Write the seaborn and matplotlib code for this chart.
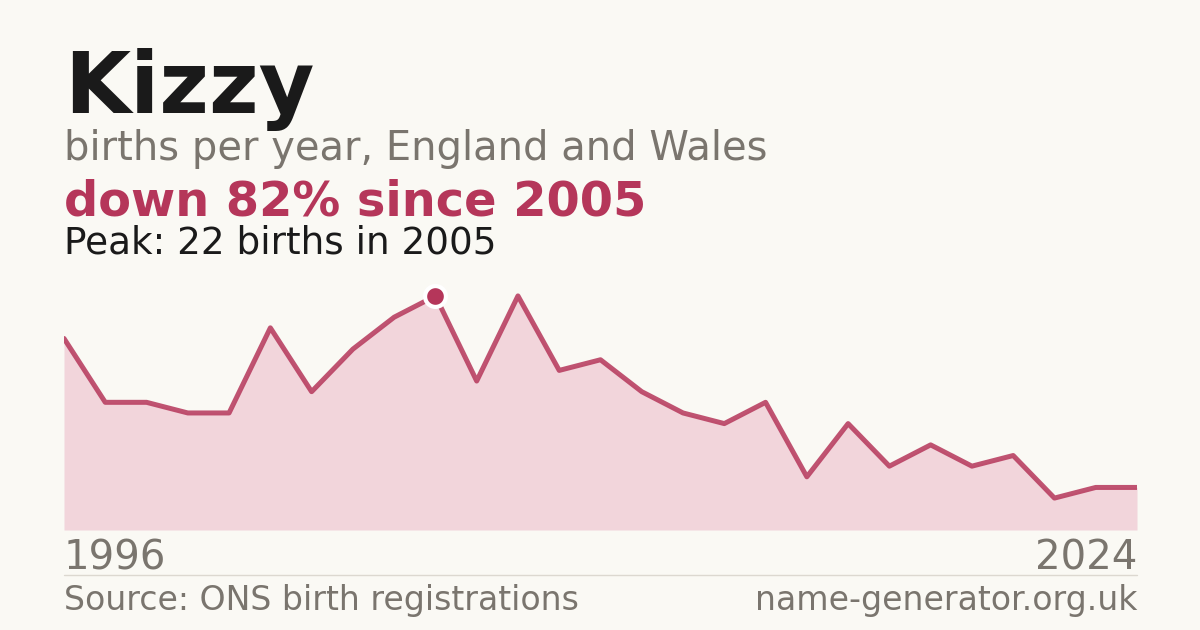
import matplotlib
matplotlib.use('Agg')
import matplotlib.pyplot as plt
import seaborn as sns
import numpy as np
import pandas as pd

# births per year (evenly spaced points as in the chart, 1996 .. 2024)
births = [18, 12, 12, 11, 11, 19, 13, 17, 20, 22, 14, 22, 15, 16,
          13, 11, 10, 12, 5, 10, 6, 8, 6, 7, 3, 4, 4]
first_year = '1996'
last_year = '2024'
peak_idx = 9

title = 'Kizzy'
subtitle = 'births per year, England and Wales'
change_txt = 'down 82% since 2005'
peak_txt = 'Peak: 22 births in 2005'
source_txt = 'Source: ONS birth registrations'
site_txt = 'name-generator.org.uk'

BG = '#faf9f4'
RED = '#b5365a'
FILL = '#f2d5db'
GREY = '#7a756e'
DARK = '#1a1a1a'

W, H = 1200, 630
sns.set_style('white')
plt.rcParams['font.family'] = ['DejaVu Sans']

fig = plt.figure(figsize=(W / 100, H / 100), dpi=100, facecolor=BG)

def px(x, y):
    return x / W, 1 - y / H

ax = fig.add_axes([64 / W, 100 / H, 1073 / W, 250 / H])
ax.set_facecolor(BG)

df = pd.DataFrame({'i': np.arange(len(births)), 'births': births})
ax.fill_between(df['i'], df['births'], 0, color=FILL, lw=0, zorder=1)
sns.lineplot(data=df, x='i', y='births', ax=ax, color=RED, lw=3.6,
             alpha=0.85, zorder=2)
ax.plot(df['i'][peak_idx], df['births'][peak_idx], marker='o', ms=15,
        color=RED, mec='white', mew=3, zorder=3, clip_on=False)

ax.set_xlim(0, len(births) - 1)
ax.set_ylim(0, 250 / 10.64)
ax.axis('off')

# header texts
fig.text(*px(64, 113), title, fontsize=61.5, fontweight='bold', color=DARK, va='baseline')
fig.text(*px(64, 160), subtitle, fontsize=28.8, color=GREY, va='baseline')
fig.text(*px(64, 215), change_txt, fontsize=34.5, fontweight='bold', color=RED, va='baseline')
fig.text(*px(64, 253), peak_txt, fontsize=26.9, color=DARK, va='baseline')

# year labels
fig.text(*px(64, 570), first_year, fontsize=29, color=GREY, va='baseline')
fig.text(*px(1137, 570), last_year, fontsize=29, color=GREY, va='baseline', ha='right')

# separator
fig.add_artist(plt.Line2D([64 / W, 1137 / W], [1 - 575 / H, 1 - 575 / H],
                          color='#dcd8d0', lw=1))

fig.text(*px(64, 610), source_txt, fontsize=23.9, color=GREY, va='baseline')
fig.text(*px(1137, 610), site_txt, fontsize=23.9, color=GREY, va='baseline', ha='right')

plt.savefig('out.png', dpi=100, facecolor=BG)
